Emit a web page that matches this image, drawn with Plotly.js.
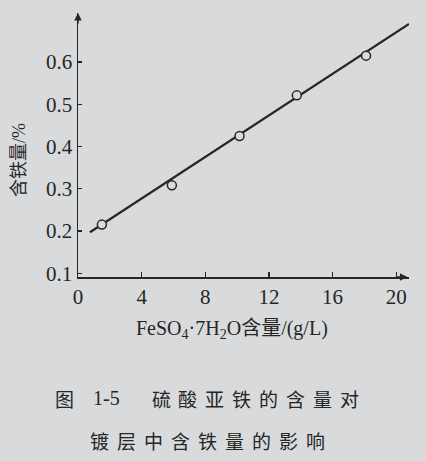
<!DOCTYPE html>
<html>
<head>
<meta charset="utf-8">
<script src="https://cdn.plot.ly/plotly-3.0.1.min.js"></script>
<style>html,body{margin:0;padding:0;background:#d9dadb;}</style>
</head>
<body>
<div id="chart" style="width:426px;height:461px;"></div>
<script>
// Data
const feso4 = [1.5, 5.9, 10.15, 13.75, 18.1];          // g/L
const ironContent = [0.215, 0.308, 0.425, 0.521, 0.615]; // %
const fitX = [0.75, 20.8];
const fitY = [0.197, 0.690];
const xTicks = [0, 4, 8, 12, 16, 20];
const yTicks = [0.1, 0.2, 0.3, 0.4, 0.5, 0.6];
const yTickLabels = ['0.1', '0.2', '0.3', '0.4', '0.5', '0.6'];

const SERIF = '\'Liberation Serif\', serif';
const xTitle = '<span style="font-family:' + SERIF + '">FeSO<sub>4</sub>·7H<sub>2</sub>O</span>含量<span style="font-family:' + SERIF + '">/(g/L)</span>';
const yTitle = '含铁量<span style="font-family:' + SERIF + '">/%</span>';
const captionLabel = ['图', '<span style="font-family:' + SERIF + '">1-5</span>'];
const caption1 = '硫酸亚铁的含量对';
const caption2 = '镀层中含铁量的影响';

const ink = '#262626';
const bg = '#d9dadb';
const serif = '"Liberation Serif", "Times New Roman", serif';
const cjk = '"Noto Sans CJK SC", sans-serif';

// plot-area geometry in pixels (for placing paper-referenced text)
const W = 426, H = 461, ML = 78, MR = 17, MT = 13, MB = 184;
const PW = W - ML - MR, PH = H - MT - MB;
const px = v => (v - ML) / PW;
const py = v => (H - MB - v) / PH;

const traces = [
  {x: fitX, y: fitY, mode: 'lines', line: {color: ink, width: 2.2}, hoverinfo: 'skip', cliponaxis: false},
  {x: feso4, y: ironContent, mode: 'markers',
   marker: {symbol: 'circle', size: 9, color: bg, line: {color: ink, width: 1.5}}, cliponaxis: false}
];

function txt(x, y, text, size, extra) {
  return Object.assign({x: px(x), y: py(y), xref: 'paper', yref: 'paper', text: text,
    showarrow: false, xanchor: 'center', yanchor: 'middle',
    font: {family: cjk, size: size, color: ink}}, extra || {});
}

const annotations = [
  {x: 20.7, y: 0.091, xref: 'x', yref: 'y', ax: -12, ay: 0, text: '', showarrow: true,
   arrowhead: 2, arrowsize: 1, arrowwidth: 1.5, arrowcolor: ink},
  {x: 0, y: 0.716, xref: 'x', yref: 'y', ax: 0, ay: 12, text: '', showarrow: true,
   arrowhead: 2, arrowsize: 1, arrowwidth: 1.5, arrowcolor: ink},
  txt(232, 327, xTitle, 20),
  txt(17, 160, yTitle, 18, {textangle: -90}),
  txt(64, 398, captionLabel[0], 19),
  txt(106, 398, captionLabel[1], 20)
];
// caption characters, spaced like the printed figure
Array.from(caption1).forEach((c, i) => annotations.push(txt(161 + 26.9 * i, 398, c, 19)));
Array.from(caption2).forEach((c, i) => annotations.push(txt(99 + 27.1 * i, 440, c, 19)));

const layout = {
  width: W, height: H,
  margin: {l: ML, r: MR, t: MT, b: MB},
  paper_bgcolor: bg, plot_bgcolor: bg,
  showlegend: false,
  font: {family: serif, color: ink},
  xaxis: {
    range: [0, 20.8], tickvals: xTicks, ticktext: xTicks.map(String),
    ticks: 'inside', ticklen: 5, tickwidth: 1.2, tickcolor: ink,
    showline: true, linecolor: ink, linewidth: 1.5,
    showgrid: false, zeroline: false,
    tickfont: {family: serif, size: 21, color: ink}
  },
  yaxis: {
    range: [0.091, 0.716], tickvals: yTicks, ticktext: yTickLabels,
    ticks: 'inside', ticklen: 4, tickwidth: 1.2, tickcolor: ink,
    showline: true, linecolor: ink, linewidth: 1.5,
    showgrid: false, zeroline: false,
    tickfont: {family: serif, size: 21, color: ink}
  },
  annotations: annotations
};

Plotly.newPlot('chart', traces, layout, {displayModeBar: false, staticPlot: true});
</script>
</body>
</html>
